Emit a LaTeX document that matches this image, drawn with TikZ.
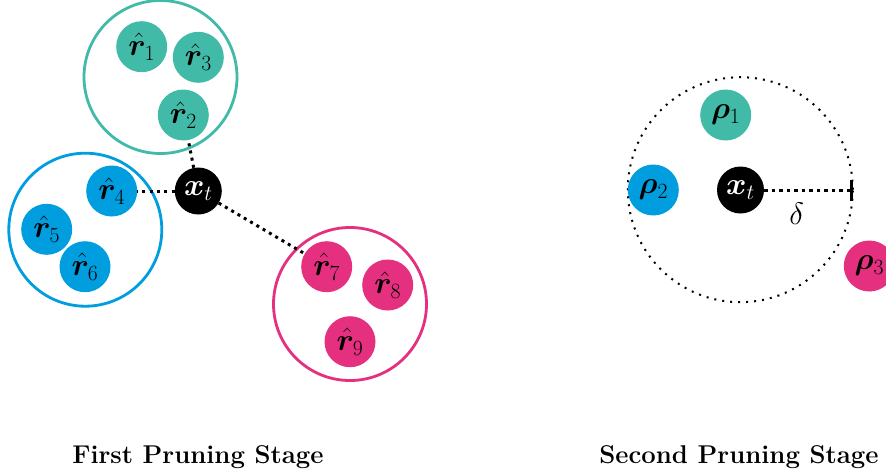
\documentclass[tikz,border=0pt]{standalone}
\usepackage{fix-cm}
\usepackage{amsmath}
\usepackage{bm}
\usetikzlibrary{arrows.meta}

\definecolor{cteal}{RGB}{66,186,168}
\definecolor{cblue}{RGB}{0,157,223}
\definecolor{cpink}{RGB}{229,48,128}

\tikzset{
  pt/.style={circle, inner sep=0pt, minimum size=51pt, draw=none,
             font=\fontsize{31}{36}\selectfont},
  anchorpt/.style={pt, fill=black, text=white, minimum size=47pt},
  group/.style={circle, draw=#1, line width=2.8pt, minimum size=153pt, inner sep=0pt},
  link/.style={line width=3pt, dash pattern=on 3pt off 4.3pt},
  ball/.style={circle, draw=black, line width=2pt, dash pattern=on 2pt off 6pt,
               minimum size=225pt, inner sep=0pt},
  radius line/.style={line width=3pt, dash pattern=on 3.5pt off 4pt,
               -{Bar[width=21pt,line width=3pt]}},
  caption/.style={anchor=base, font=\bfseries\fontsize{25.7}{30}\selectfont},
}

\begin{document}
\begin{tikzpicture}[x=1pt, y=-1pt]
  \useasboundingbox (0,0) rectangle (886,472);

  % ---------- first pruning stage ----------
  \node[group=cteal] (g1) at (160.5,77) {};
  \node[group=cblue] (g2) at (85.3,229.7) {};
  \node[group=cpink] (g3) at (350,304) {};

  \node[pt, fill=cteal] (r1) at (141.7,46.7) {$\hat{\bm r}_1$};
  \node[pt, fill=cteal] (r3) at (198.3,57.3) {$\hat{\bm r}_3$};
  \node[pt, fill=cteal] (r2) at (183.3,115) {$\hat{\bm r}_2$};

  \node[pt, fill=cblue] (r4) at (111.7,191) {$\hat{\bm r}_4$};
  \node[pt, fill=cblue] (r5) at (46.7,229.3) {$\hat{\bm r}_5$};
  \node[pt, fill=cblue] (r6) at (85,266.7) {$\hat{\bm r}_6$};

  \node[pt, fill=cpink] (r7) at (326.7,266.7) {$\hat{\bm r}_7$};
  \node[pt, fill=cpink] (r8) at (387.7,285) {$\hat{\bm r}_8$};
  \node[pt, fill=cpink] (r9) at (350,341.7) {$\hat{\bm r}_9$};

  \node[anchorpt] (xa) at (198.3,191) {$\bm x_t$};

  \draw[link] (xa) -- (r2);
  \draw[link] (xa) -- (r4);
  \draw[link] (xa) -- (r7);

  \node[caption] (cap1) at (198,463.3) {First Pruning Stage};

  % ---------- second pruning stage ----------
  \node[ball] (ball) at (740.3,189.7) {};
  \node[pt, fill=cteal] (p1) at (725.7,115) {$\bm\rho_1$};
  \node[pt, fill=cblue] (p2) at (653.3,190) {$\bm\rho_2$};
  \node[pt, fill=cpink] (p3) at (869.3,266) {$\bm\rho_3$};
  \node[anchorpt] (xb) at (740.5,190) {$\bm x_t$};

  \coordinate (rim) at (852.5,190);
  \draw[radius line] (xb) -- (rim);
  \node[font=\fontsize{31}{36}\selectfont] (delta) at (796.7,213.3) {$\delta$};

  \node[caption] (cap2) at (739,463.3) {Second Pruning Stage};
\end{tikzpicture}
\end{document}
